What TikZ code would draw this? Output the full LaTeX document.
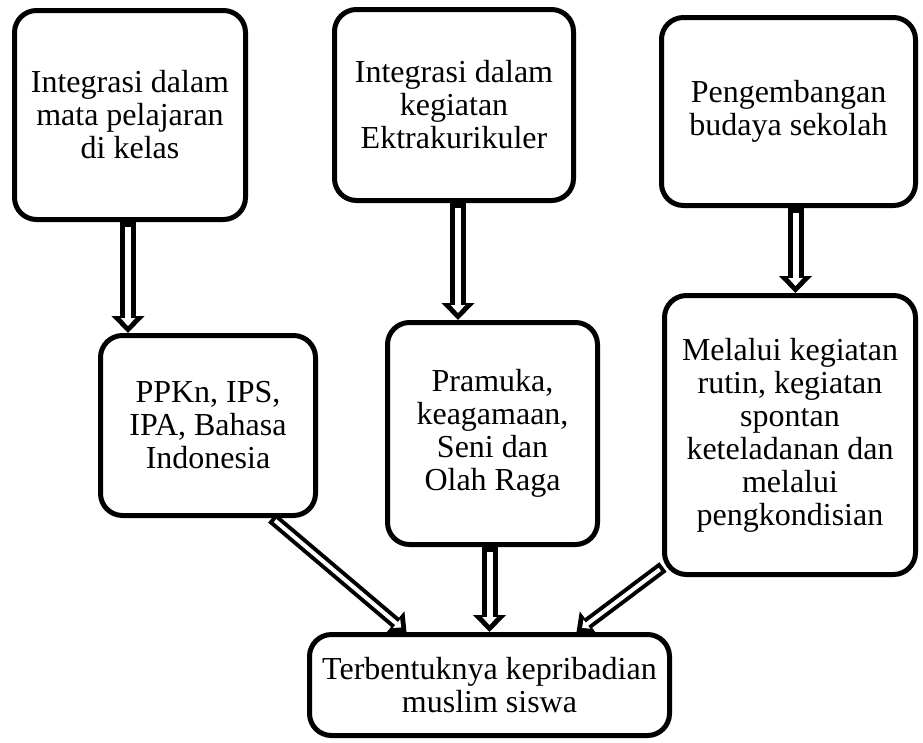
\documentclass[tikz,border=0pt]{standalone}
\usepackage{fontspec}
\setmainfont{Liberation Serif}
\usepackage{tikz}
\usetikzlibrary{arrows.meta,calc}

\tikzset{
	kotak/.style={draw, line width=5pt, rounded corners=22pt, align=center, inner sep=0pt,
		font=\fontsize{32}{33}\selectfont},
	panah/.style={line width=16pt, -{Triangle[length=17pt,width=32pt]},
		postaction={draw=white, line width=6pt, shorten >=7pt, shorten <=5pt,
			-{Triangle[length=8pt,width=14pt]}}},
	panahmiring/.style={line width=12pt, -{Triangle[length=15pt,width=28pt]},
		postaction={draw=white, line width=4pt, shorten >=7pt, shorten <=4pt,
			-{Triangle[length=6pt,width=11pt]}}}
}

\begin{document}
\begin{tikzpicture}[x=1pt, y=-1pt]
		\useasboundingbox (0,0) rectangle (923,742);
		
		% baris atas
		\node[kotak, minimum width=231pt, minimum height=209pt] (mapel) at (130,115)
		{Integrasi dalam\\mata pelajaran\\di kelas};
		\node[kotak, minimum width=239pt, minimum height=191pt] (ekskul) at (454,105)
		{Integrasi dalam\\kegiatan\\Ektrakurikuler};
		\node[kotak, minimum width=254pt, minimum height=188pt] (budaya) at (788.5,111.5)
		{Pengembangan\\budaya sekolah};
		
		% baris tengah
		\node[kotak, minimum width=215pt, minimum height=180pt] (ppkn) at (208,425.5)
		{PPKn, IPS,\\IPA, Bahasa\\Indonesia};
		\node[kotak, minimum width=210pt, minimum height=222pt] (pramuka) at (492.5,433.5)
		{Pramuka,\\keagamaan,\\Seni dan\\Olah Raga};
		\node[kotak, minimum width=251pt, minimum height=279pt] (rutin) at (790,435)
		{Melalui kegiatan\\rutin, kegiatan\\spontan\\keteladanan dan\\melalui\\pengkondisian};
		
		% hasil
		\node[kotak, minimum width=360pt, minimum height=101pt] (hasil) at (489.5,685)
		{Terbentuknya kepribadian\\muslim siswa};
		
		\coordinate (p1) at ($(mapel.south)+(-2,0)$);
		\coordinate (p2) at ($(ekskul.south)+(4,0)$);
		\coordinate (p3) at ($(budaya.south)+(7,0)$);
		\coordinate (p4) at ($(pramuka.south)+(-3,0)$);
		
		\draw[panah] (p1) -- (p1 |- ppkn.north);
		\draw[panah] (p2) -- (p2 |- pramuka.north);
		\draw[panah] (p3) -- (p3 |- rutin.north);
		
		\draw[panahmiring] ($(ppkn.south)+(64,0)$) -- ($(hasil.north)+(-83,0)$);
		\draw[panah] (p4) -- (p4 |- hasil.north);
		\draw[panahmiring] ($(rutin.south west)+(1,-10)$) -- ($(hasil.north)+(87,0)$);
	\end{tikzpicture}
\end{document}
